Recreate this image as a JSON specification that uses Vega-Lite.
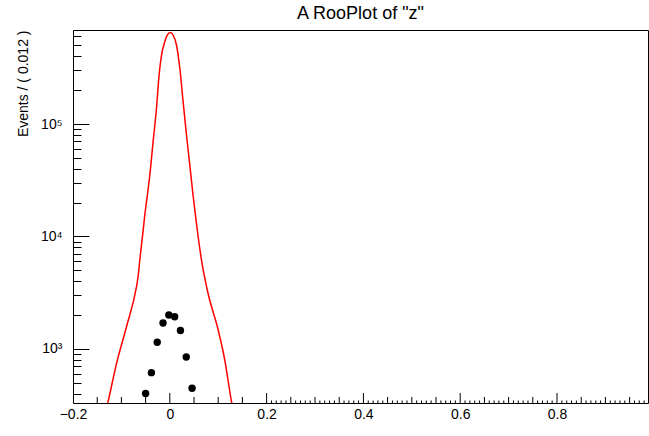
{
  "$schema": "https://vega.github.io/schema/vega-lite/v6.json",
  "autosize": "none",
  "width": 575,
  "height": 373,
  "padding": {"left": 73, "top": 30, "right": 1, "bottom": 33},
  "background": "white",
  "title": {"text": "A RooPlot of \"z\"", "font": "Liberation Sans", "fontSize": 18, "fontWeight": "normal", "color": "black", "anchor": "middle", "offset": 6},
  "config": {
    "view": {"stroke": "black", "strokeWidth": 1},
    "axis": {"labelFont": "Liberation Sans", "titleFont": "Liberation Sans", "labelColor": "black", "titleColor": "black", "domain": false, "ticks": false, "labelFontSize": 14, "titleFontSize": 14, "titleFontWeight": "normal", "grid": false, "labelOverlap": false, "labelFlush": false}
  },
  "datasets": {
    "curve": [
      {"z": -0.140, "n": 200},
      {"z": -0.1275, "n": 340},
      {"z": -0.110, "n": 746},
      {"z": -0.0895, "n": 1578},
      {"z": -0.0688, "n": 3580},
      {"z": -0.0655, "n": 4390},
      {"z": -0.062, "n": 6180},
      {"z": -0.055, "n": 11400},
      {"z": -0.0517, "n": 15500},
      {"z": -0.0481, "n": 20400},
      {"z": -0.0413, "n": 35200},
      {"z": -0.0345, "n": 69700},
      {"z": -0.0275, "n": 138000},
      {"z": -0.0221, "n": 273000},
      {"z": -0.0171, "n": 410000},
      {"z": -0.0103, "n": 538000},
      {"z": -0.005, "n": 620000},
      {"z": 0.001, "n": 652000},
      {"z": 0.007, "n": 615000},
      {"z": 0.0138, "n": 504000},
      {"z": 0.0207, "n": 313000},
      {"z": 0.0275, "n": 158000},
      {"z": 0.0345, "n": 79800},
      {"z": 0.0413, "n": 43300},
      {"z": 0.048, "n": 23400},
      {"z": 0.053, "n": 15500},
      {"z": 0.0585, "n": 10000},
      {"z": 0.0655, "n": 6180},
      {"z": 0.079, "n": 3130},
      {"z": 0.100, "n": 1476},
      {"z": 0.1136, "n": 798},
      {"z": 0.1275, "n": 340},
      {"z": 0.140, "n": 200}
    ],
    "points": [
      {"z": -0.050, "n": 402},
      {"z": -0.038, "n": 616},
      {"z": -0.026, "n": 1147},
      {"z": -0.014, "n": 1703},
      {"z": -0.002, "n": 2005},
      {"z": 0.010, "n": 1937},
      {"z": 0.022, "n": 1460},
      {"z": 0.034, "n": 850},
      {"z": 0.046, "n": 447}
    ],
    "xticks": [
      {"v": -0.2, "k": "major"}, {"v": -0.15, "k": "med"}, {"v": -0.1, "k": "med"}, {"v": -0.05, "k": "med"},
      {"v": 0, "k": "major"}, {"v": 0.05, "k": "med"}, {"v": 0.1, "k": "med"}, {"v": 0.15, "k": "med"},
      {"v": 0.2, "k": "major"}, {"v": 0.21, "k": "minor"}, {"v": 0.22, "k": "minor"}, {"v": 0.23, "k": "minor"}, {"v": 0.24, "k": "minor"},
      {"v": 0.25, "k": "med"}, {"v": 0.26, "k": "minor"}, {"v": 0.27, "k": "minor"}, {"v": 0.28, "k": "minor"}, {"v": 0.29, "k": "minor"},
      {"v": 0.3, "k": "med"}, {"v": 0.31, "k": "minor"}, {"v": 0.32, "k": "minor"}, {"v": 0.33, "k": "minor"}, {"v": 0.34, "k": "minor"},
      {"v": 0.35, "k": "med"}, {"v": 0.36, "k": "minor"}, {"v": 0.37, "k": "minor"}, {"v": 0.38, "k": "minor"}, {"v": 0.39, "k": "minor"},
      {"v": 0.4, "k": "major"}, {"v": 0.41, "k": "minor"}, {"v": 0.42, "k": "minor"}, {"v": 0.43, "k": "minor"}, {"v": 0.44, "k": "minor"},
      {"v": 0.45, "k": "med"}, {"v": 0.46, "k": "minor"}, {"v": 0.47, "k": "minor"}, {"v": 0.48, "k": "minor"}, {"v": 0.49, "k": "minor"},
      {"v": 0.5, "k": "med"}, {"v": 0.51, "k": "minor"}, {"v": 0.52, "k": "minor"}, {"v": 0.53, "k": "minor"}, {"v": 0.54, "k": "minor"},
      {"v": 0.55, "k": "med"}, {"v": 0.56, "k": "minor"}, {"v": 0.57, "k": "minor"}, {"v": 0.58, "k": "minor"}, {"v": 0.59, "k": "minor"},
      {"v": 0.6, "k": "major"}, {"v": 0.61, "k": "minor"}, {"v": 0.62, "k": "minor"}, {"v": 0.63, "k": "minor"}, {"v": 0.64, "k": "minor"},
      {"v": 0.65, "k": "med"}, {"v": 0.66, "k": "minor"}, {"v": 0.67, "k": "minor"}, {"v": 0.68, "k": "minor"}, {"v": 0.69, "k": "minor"},
      {"v": 0.7, "k": "med"}, {"v": 0.71, "k": "minor"}, {"v": 0.72, "k": "minor"}, {"v": 0.73, "k": "minor"}, {"v": 0.74, "k": "minor"},
      {"v": 0.75, "k": "med"}, {"v": 0.76, "k": "minor"}, {"v": 0.77, "k": "minor"}, {"v": 0.78, "k": "minor"}, {"v": 0.79, "k": "minor"},
      {"v": 0.8, "k": "major"}, {"v": 0.81, "k": "minor"}, {"v": 0.82, "k": "minor"}, {"v": 0.83, "k": "minor"}, {"v": 0.84, "k": "minor"},
      {"v": 0.85, "k": "med"}, {"v": 0.86, "k": "minor"}, {"v": 0.87, "k": "minor"}, {"v": 0.88, "k": "minor"}, {"v": 0.89, "k": "minor"},
      {"v": 0.9, "k": "med"}, {"v": 0.91, "k": "minor"}, {"v": 0.92, "k": "minor"}, {"v": 0.93, "k": "minor"}, {"v": 0.94, "k": "minor"},
      {"v": 0.95, "k": "med"}, {"v": 0.96, "k": "minor"}, {"v": 0.97, "k": "minor"}, {"v": 0.98, "k": "minor"}
    ]
  },
  "layer": [
    {
      "data": {"name": "curve"},
      "mark": {"type": "line", "color": "red", "strokeWidth": 1.5, "clip": true, "interpolate": "monotone"},
      "encoding": {
        "x": {
          "field": "z", "type": "quantitative",
          "scale": {"domain": [-0.2, 0.988], "nice": false, "zero": false},
          "axis": {
            "title": null,
            "values": [-0.2, 0, 0.2, 0.4, 0.6, 0.8],
            "labelExpr": "abs(datum.value) < 0.001 ? '0' : format(datum.value, '.1f')",
            "labelPadding": 4
          }
        },
        "y": {
          "field": "n", "type": "quantitative",
          "scale": {"type": "log", "domain": [331, 685000], "nice": false},
          "axis": {
            "title": "Events / ( 0.012 )",
            "titleAnchor": "end",
            "titlePadding": 10,
            "values": [400, 500, 600, 700, 800, 900, 1000, 2000, 3000, 4000, 5000, 6000, 7000, 8000, 9000, 10000, 20000, 30000, 40000, 50000, 60000, 70000, 80000, 90000, 100000, 200000, 300000, 400000, 500000, 600000],
            "labelExpr": "datum.value == 1000 ? '10³' : datum.value == 10000 ? '10⁴' : datum.value == 100000 ? '10⁵' : ''",
            "labelPadding": 11,
            "grid": true,
            "gridColor": "black",
            "gridOpacity": 1,
            "gridWidth": 1,
            "gridDash": {"condition": {"test": "datum.value == 1000 || datum.value == 10000 || datum.value == 100000", "value": [16, 2000]}, "value": [8, 2000]}
          }
        }
      }
    },
    {
      "data": {"name": "xticks"},
      "transform": [{"filter": "datum.k == 'major'"}],
      "mark": {"type": "tick", "orient": "vertical", "color": "black", "thickness": 1, "size": 20, "clip": true, "opacity": 1},
      "encoding": {"x": {"field": "v", "type": "quantitative"}, "y": {"datum": 331, "type": "quantitative"}}
    },
    {
      "data": {"name": "xticks"},
      "transform": [{"filter": "datum.k == 'med'"}],
      "mark": {"type": "tick", "orient": "vertical", "color": "black", "thickness": 1, "size": 12, "clip": true, "opacity": 1},
      "encoding": {"x": {"field": "v", "type": "quantitative"}, "y": {"datum": 331, "type": "quantitative"}}
    },
    {
      "data": {"name": "xticks"},
      "transform": [{"filter": "datum.k == 'minor'"}],
      "mark": {"type": "tick", "orient": "vertical", "color": "black", "thickness": 1, "size": 5, "clip": true, "opacity": 1},
      "encoding": {"x": {"field": "v", "type": "quantitative"}, "y": {"datum": 331, "type": "quantitative"}}
    },
    {
      "data": {"name": "points"},
      "mark": {"type": "circle", "color": "black", "size": 55, "opacity": 1},
      "encoding": {
        "x": {"field": "z", "type": "quantitative"},
        "y": {"field": "n", "type": "quantitative"}
      }
    }
  ]
}
